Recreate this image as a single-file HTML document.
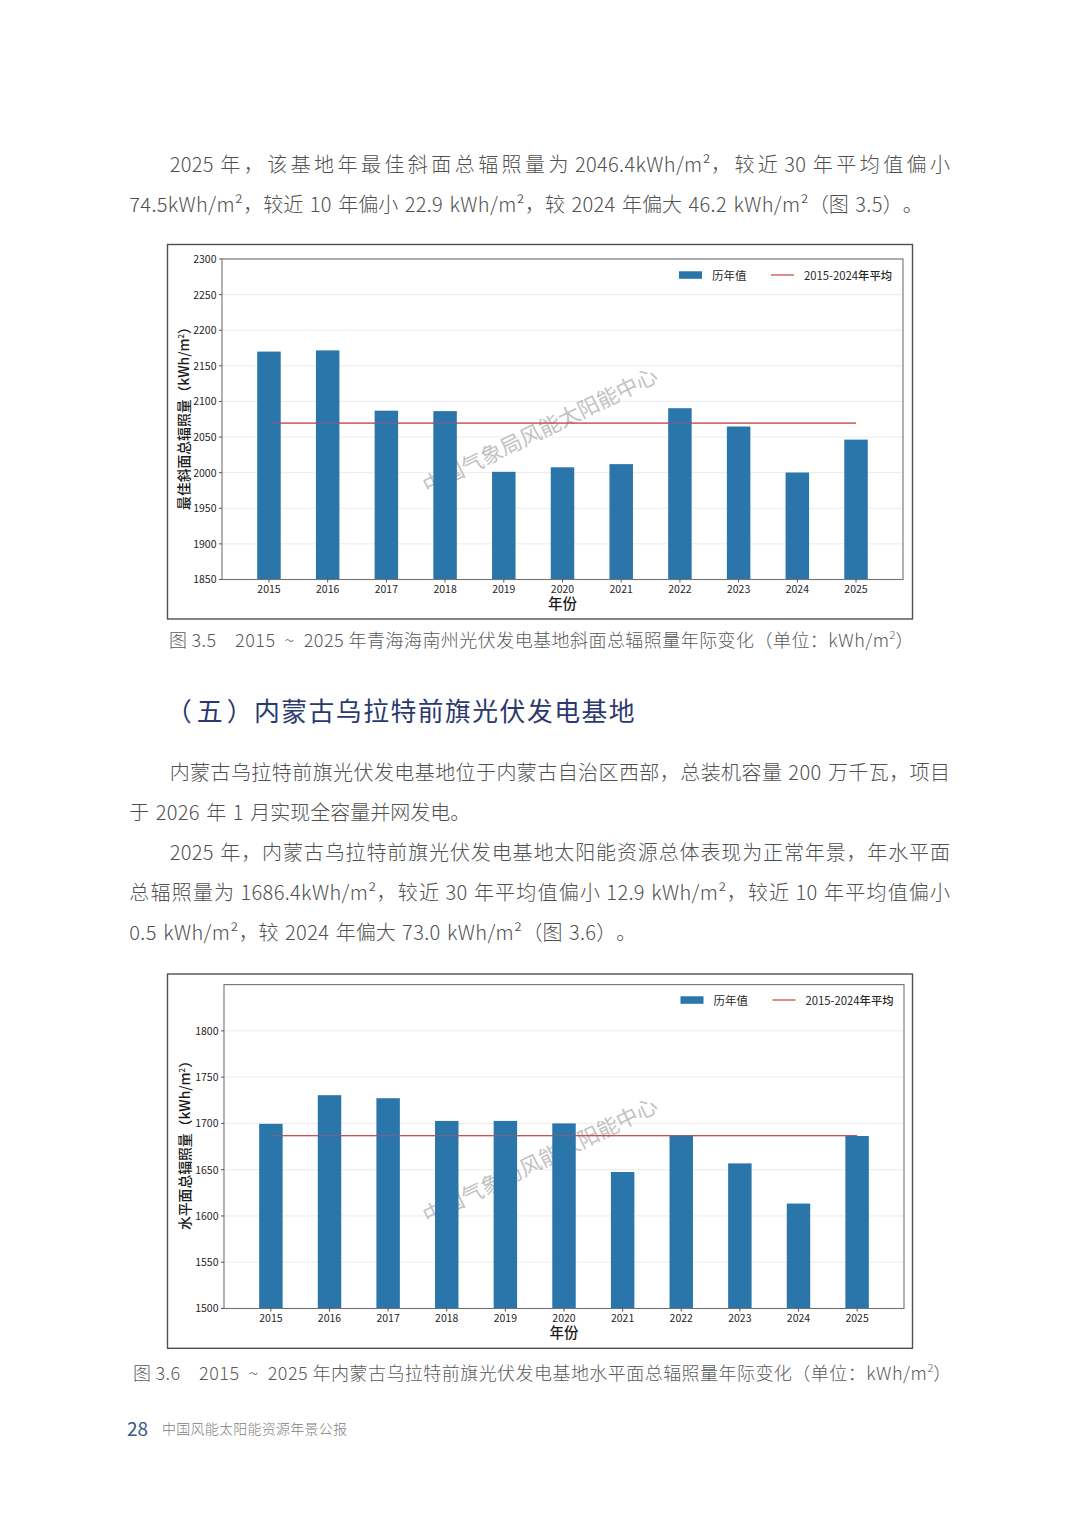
<!DOCTYPE html>
<html><head><meta charset="utf-8"><style>
html,body{margin:0;padding:0;background:#fff}
body{width:1080px;height:1527px;position:relative;overflow:hidden}
.t{position:absolute;font-family:"Noto Sans CJK SC",sans-serif;font-weight:300;font-size:20px;color:#505050;white-space:nowrap;line-height:1;word-spacing:2px;text-spacing-trim:space-all}
.j{text-align:justify;text-align-last:justify;white-space:normal}
.l{letter-spacing:0.35px}
.lc{letter-spacing:0.5px}
.cap{position:absolute;font-family:"Noto Sans CJK SC",sans-serif;font-weight:300;font-size:18px;color:#5a5a5a;white-space:nowrap;line-height:1;word-spacing:0px;letter-spacing:0.45px;text-spacing-trim:space-all}
.h{position:absolute;font-family:"Noto Sans CJK SC",sans-serif;font-weight:400;font-size:25.8px;letter-spacing:1.5px;color:#2b3a6e;white-space:nowrap;line-height:1}
.h span{position:relative;display:inline-block}
sup{font-size:11px;vertical-align:0;position:relative;top:-8px;letter-spacing:0}
svg text.tk{font-family:"Noto Sans CJK SC",sans-serif;font-size:10.5px;fill:#262626}
svg text.lb{font-family:"Noto Sans CJK SC",sans-serif;font-weight:500;font-size:14.5px;fill:#1a1a1a}
svg text.yl{font-size:13.8px}
svg text.lg{font-family:"Noto Sans CJK SC",sans-serif;font-weight:400;font-size:11.5px;fill:#262626}
svg text.lg2{font-size:11.3px}
svg text.wm{font-family:"Noto Sans CJK SC",sans-serif;font-weight:400;fill:#c2c2c2}
</style></head><body>
<svg width="1080" height="1527" viewBox="0 0 1080 1527" style="position:absolute;left:0;top:0">
<rect x="167.5" y="244.5" width="745.0" height="374.5" fill="#fff" stroke="#505050" stroke-width="1.4"/>
<line x1="222" y1="579.50" x2="903" y2="579.50" stroke="#ebebeb" stroke-width="1"/>
<line x1="222" y1="543.89" x2="903" y2="543.89" stroke="#ebebeb" stroke-width="1"/>
<line x1="222" y1="508.28" x2="903" y2="508.28" stroke="#ebebeb" stroke-width="1"/>
<line x1="222" y1="472.67" x2="903" y2="472.67" stroke="#ebebeb" stroke-width="1"/>
<line x1="222" y1="437.06" x2="903" y2="437.06" stroke="#ebebeb" stroke-width="1"/>
<line x1="222" y1="401.44" x2="903" y2="401.44" stroke="#ebebeb" stroke-width="1"/>
<line x1="222" y1="365.83" x2="903" y2="365.83" stroke="#ebebeb" stroke-width="1"/>
<line x1="222" y1="330.22" x2="903" y2="330.22" stroke="#ebebeb" stroke-width="1"/>
<line x1="222" y1="294.61" x2="903" y2="294.61" stroke="#ebebeb" stroke-width="1"/>
<line x1="222" y1="259.00" x2="903" y2="259.00" stroke="#ebebeb" stroke-width="1"/>
<text transform="translate(543.5,437.5) rotate(-26)" text-anchor="middle" class="wm" font-size="21.5">中国气象局风能太阳能中心</text>
<line x1="268.97" y1="423.17" x2="856.03" y2="423.17" stroke="#c65253" stroke-width="1.3"/>
<rect x="257.22" y="351.59" width="23.48" height="227.91" fill="#2a75a9"/>
<rect x="315.93" y="350.38" width="23.48" height="229.12" fill="#2a75a9"/>
<rect x="374.64" y="410.70" width="23.48" height="168.80" fill="#2a75a9"/>
<rect x="433.34" y="411.13" width="23.48" height="168.37" fill="#2a75a9"/>
<rect x="492.05" y="471.81" width="23.48" height="107.69" fill="#2a75a9"/>
<rect x="550.76" y="467.32" width="23.48" height="112.18" fill="#2a75a9"/>
<rect x="609.47" y="464.12" width="23.48" height="115.38" fill="#2a75a9"/>
<rect x="668.17" y="408.21" width="23.48" height="171.29" fill="#2a75a9"/>
<rect x="726.88" y="426.51" width="23.48" height="152.99" fill="#2a75a9"/>
<rect x="785.59" y="472.52" width="23.48" height="106.98" fill="#2a75a9"/>
<rect x="844.29" y="439.62" width="23.48" height="139.88" fill="#2a75a9"/>
<line x1="268.97" y1="423.17" x2="856.03" y2="423.17" stroke="#c65253" stroke-width="1.3" stroke-opacity="0.45"/>
<rect x="222" y="259" width="681" height="320.5" fill="none" stroke="#737373" stroke-width="1.1"/>
<line x1="219" y1="579.50" x2="222" y2="579.50" stroke="#555" stroke-width="1"/>
<text x="216.5" y="583.40" text-anchor="end" class="tk">1850</text>
<line x1="219" y1="543.89" x2="222" y2="543.89" stroke="#555" stroke-width="1"/>
<text x="216.5" y="547.79" text-anchor="end" class="tk">1900</text>
<line x1="219" y1="508.28" x2="222" y2="508.28" stroke="#555" stroke-width="1"/>
<text x="216.5" y="512.18" text-anchor="end" class="tk">1950</text>
<line x1="219" y1="472.67" x2="222" y2="472.67" stroke="#555" stroke-width="1"/>
<text x="216.5" y="476.57" text-anchor="end" class="tk">2000</text>
<line x1="219" y1="437.06" x2="222" y2="437.06" stroke="#555" stroke-width="1"/>
<text x="216.5" y="440.96" text-anchor="end" class="tk">2050</text>
<line x1="219" y1="401.44" x2="222" y2="401.44" stroke="#555" stroke-width="1"/>
<text x="216.5" y="405.34" text-anchor="end" class="tk">2100</text>
<line x1="219" y1="365.83" x2="222" y2="365.83" stroke="#555" stroke-width="1"/>
<text x="216.5" y="369.73" text-anchor="end" class="tk">2150</text>
<line x1="219" y1="330.22" x2="222" y2="330.22" stroke="#555" stroke-width="1"/>
<text x="216.5" y="334.12" text-anchor="end" class="tk">2200</text>
<line x1="219" y1="294.61" x2="222" y2="294.61" stroke="#555" stroke-width="1"/>
<text x="216.5" y="298.51" text-anchor="end" class="tk">2250</text>
<line x1="219" y1="259.00" x2="222" y2="259.00" stroke="#555" stroke-width="1"/>
<text x="216.5" y="262.90" text-anchor="end" class="tk">2300</text>
<line x1="268.97" y1="579.5" x2="268.97" y2="582.5" stroke="#555" stroke-width="1"/>
<text x="268.97" y="592.7" text-anchor="middle" class="tk">2015</text>
<line x1="327.67" y1="579.5" x2="327.67" y2="582.5" stroke="#555" stroke-width="1"/>
<text x="327.67" y="592.7" text-anchor="middle" class="tk">2016</text>
<line x1="386.38" y1="579.5" x2="386.38" y2="582.5" stroke="#555" stroke-width="1"/>
<text x="386.38" y="592.7" text-anchor="middle" class="tk">2017</text>
<line x1="445.09" y1="579.5" x2="445.09" y2="582.5" stroke="#555" stroke-width="1"/>
<text x="445.09" y="592.7" text-anchor="middle" class="tk">2018</text>
<line x1="503.79" y1="579.5" x2="503.79" y2="582.5" stroke="#555" stroke-width="1"/>
<text x="503.79" y="592.7" text-anchor="middle" class="tk">2019</text>
<line x1="562.50" y1="579.5" x2="562.50" y2="582.5" stroke="#555" stroke-width="1"/>
<text x="562.50" y="592.7" text-anchor="middle" class="tk">2020</text>
<line x1="621.21" y1="579.5" x2="621.21" y2="582.5" stroke="#555" stroke-width="1"/>
<text x="621.21" y="592.7" text-anchor="middle" class="tk">2021</text>
<line x1="679.91" y1="579.5" x2="679.91" y2="582.5" stroke="#555" stroke-width="1"/>
<text x="679.91" y="592.7" text-anchor="middle" class="tk">2022</text>
<line x1="738.62" y1="579.5" x2="738.62" y2="582.5" stroke="#555" stroke-width="1"/>
<text x="738.62" y="592.7" text-anchor="middle" class="tk">2023</text>
<line x1="797.33" y1="579.5" x2="797.33" y2="582.5" stroke="#555" stroke-width="1"/>
<text x="797.33" y="592.7" text-anchor="middle" class="tk">2024</text>
<line x1="856.03" y1="579.5" x2="856.03" y2="582.5" stroke="#555" stroke-width="1"/>
<text x="856.03" y="592.7" text-anchor="middle" class="tk">2025</text>
<text x="562.50" y="608.5" text-anchor="middle" class="lb">年份</text>
<text transform="translate(188.5,415.00) rotate(-90)" text-anchor="middle" class="lb yl">最佳斜面总辐照量（kWh/m<tspan dy="-5" font-size="8">2</tspan><tspan dy="5">）</tspan></text>
<rect x="679" y="271.3" width="23" height="7.5" fill="#2a75a9"/>
<text x="712" y="280.2" class="lg" font-weight="500">历年值</text>
<line x1="771" y1="275" x2="794" y2="275" stroke="#c65253" stroke-width="1.3"/>
<text x="804" y="280.2" class="lg lg2">2015-2024<tspan font-weight="500">年平均</tspan></text>
<rect x="167.5" y="974" width="745.0" height="374.29999999999995" fill="#fff" stroke="#505050" stroke-width="1.4"/>
<line x1="224" y1="1308.50" x2="904" y2="1308.50" stroke="#ebebeb" stroke-width="1"/>
<line x1="224" y1="1262.23" x2="904" y2="1262.23" stroke="#ebebeb" stroke-width="1"/>
<line x1="224" y1="1215.96" x2="904" y2="1215.96" stroke="#ebebeb" stroke-width="1"/>
<line x1="224" y1="1169.69" x2="904" y2="1169.69" stroke="#ebebeb" stroke-width="1"/>
<line x1="224" y1="1123.41" x2="904" y2="1123.41" stroke="#ebebeb" stroke-width="1"/>
<line x1="224" y1="1077.14" x2="904" y2="1077.14" stroke="#ebebeb" stroke-width="1"/>
<line x1="224" y1="1030.87" x2="904" y2="1030.87" stroke="#ebebeb" stroke-width="1"/>
<text transform="translate(543.5,1167.5) rotate(-26)" text-anchor="middle" class="wm" font-size="21.5">中国气象局风能太阳能中心</text>
<line x1="270.90" y1="1135.54" x2="857.10" y2="1135.54" stroke="#c65253" stroke-width="1.3"/>
<rect x="259.17" y="1123.88" width="23.45" height="184.62" fill="#2a75a9"/>
<rect x="317.79" y="1095.19" width="23.45" height="213.31" fill="#2a75a9"/>
<rect x="376.41" y="1098.24" width="23.45" height="210.26" fill="#2a75a9"/>
<rect x="435.03" y="1120.92" width="23.45" height="187.58" fill="#2a75a9"/>
<rect x="493.66" y="1120.92" width="23.45" height="187.58" fill="#2a75a9"/>
<rect x="552.28" y="1123.41" width="23.45" height="185.09" fill="#2a75a9"/>
<rect x="610.90" y="1172.00" width="23.45" height="136.50" fill="#2a75a9"/>
<rect x="669.52" y="1135.44" width="23.45" height="173.06" fill="#2a75a9"/>
<rect x="728.14" y="1163.39" width="23.45" height="145.11" fill="#2a75a9"/>
<rect x="786.76" y="1203.56" width="23.45" height="104.94" fill="#2a75a9"/>
<rect x="845.38" y="1136.00" width="23.45" height="172.50" fill="#2a75a9"/>
<line x1="270.90" y1="1135.54" x2="857.10" y2="1135.54" stroke="#c65253" stroke-width="1.3" stroke-opacity="0.45"/>
<rect x="224" y="984.6" width="680" height="323.9" fill="none" stroke="#737373" stroke-width="1.1"/>
<line x1="221" y1="1308.50" x2="224" y2="1308.50" stroke="#555" stroke-width="1"/>
<text x="218.5" y="1312.40" text-anchor="end" class="tk">1500</text>
<line x1="221" y1="1262.23" x2="224" y2="1262.23" stroke="#555" stroke-width="1"/>
<text x="218.5" y="1266.13" text-anchor="end" class="tk">1550</text>
<line x1="221" y1="1215.96" x2="224" y2="1215.96" stroke="#555" stroke-width="1"/>
<text x="218.5" y="1219.86" text-anchor="end" class="tk">1600</text>
<line x1="221" y1="1169.69" x2="224" y2="1169.69" stroke="#555" stroke-width="1"/>
<text x="218.5" y="1173.59" text-anchor="end" class="tk">1650</text>
<line x1="221" y1="1123.41" x2="224" y2="1123.41" stroke="#555" stroke-width="1"/>
<text x="218.5" y="1127.31" text-anchor="end" class="tk">1700</text>
<line x1="221" y1="1077.14" x2="224" y2="1077.14" stroke="#555" stroke-width="1"/>
<text x="218.5" y="1081.04" text-anchor="end" class="tk">1750</text>
<line x1="221" y1="1030.87" x2="224" y2="1030.87" stroke="#555" stroke-width="1"/>
<text x="218.5" y="1034.77" text-anchor="end" class="tk">1800</text>
<line x1="270.90" y1="1308.5" x2="270.90" y2="1311.5" stroke="#555" stroke-width="1"/>
<text x="270.90" y="1321.7" text-anchor="middle" class="tk">2015</text>
<line x1="329.52" y1="1308.5" x2="329.52" y2="1311.5" stroke="#555" stroke-width="1"/>
<text x="329.52" y="1321.7" text-anchor="middle" class="tk">2016</text>
<line x1="388.14" y1="1308.5" x2="388.14" y2="1311.5" stroke="#555" stroke-width="1"/>
<text x="388.14" y="1321.7" text-anchor="middle" class="tk">2017</text>
<line x1="446.76" y1="1308.5" x2="446.76" y2="1311.5" stroke="#555" stroke-width="1"/>
<text x="446.76" y="1321.7" text-anchor="middle" class="tk">2018</text>
<line x1="505.38" y1="1308.5" x2="505.38" y2="1311.5" stroke="#555" stroke-width="1"/>
<text x="505.38" y="1321.7" text-anchor="middle" class="tk">2019</text>
<line x1="564.00" y1="1308.5" x2="564.00" y2="1311.5" stroke="#555" stroke-width="1"/>
<text x="564.00" y="1321.7" text-anchor="middle" class="tk">2020</text>
<line x1="622.62" y1="1308.5" x2="622.62" y2="1311.5" stroke="#555" stroke-width="1"/>
<text x="622.62" y="1321.7" text-anchor="middle" class="tk">2021</text>
<line x1="681.24" y1="1308.5" x2="681.24" y2="1311.5" stroke="#555" stroke-width="1"/>
<text x="681.24" y="1321.7" text-anchor="middle" class="tk">2022</text>
<line x1="739.86" y1="1308.5" x2="739.86" y2="1311.5" stroke="#555" stroke-width="1"/>
<text x="739.86" y="1321.7" text-anchor="middle" class="tk">2023</text>
<line x1="798.48" y1="1308.5" x2="798.48" y2="1311.5" stroke="#555" stroke-width="1"/>
<text x="798.48" y="1321.7" text-anchor="middle" class="tk">2024</text>
<line x1="857.10" y1="1308.5" x2="857.10" y2="1311.5" stroke="#555" stroke-width="1"/>
<text x="857.10" y="1321.7" text-anchor="middle" class="tk">2025</text>
<text x="564.00" y="1337.5" text-anchor="middle" class="lb">年份</text>
<text transform="translate(190,1142.00) rotate(-90)" text-anchor="middle" class="lb yl">水平面总辐照量（kWh/m<tspan dy="-5" font-size="8">2</tspan><tspan dy="5">）</tspan></text>
<rect x="680.5" y="996.3" width="23" height="7.5" fill="#2a75a9"/>
<text x="713.5" y="1005.2" class="lg" font-weight="500">历年值</text>
<line x1="772.5" y1="1000" x2="795.5" y2="1000" stroke="#c65253" stroke-width="1.3"/>
<text x="805.5" y="1005.2" class="lg lg2">2015-2024<tspan font-weight="500">年平均</tspan></text>
</svg>
<div class="t" style="left:169.7px;top:154px"><span class="ln"><span class="l">2025</span> <span class="c" style="letter-spacing:3.441px">年，该基地年最佳斜面总辐照量</span>为 <span class="l">2046.4kWh/m²</span><span class="c" style="letter-spacing:3.441px">，较</span>近 <span class="l">30</span> <span class="c" style="letter-spacing:3.441px">年平均值偏</span>小</span></div>
<div class="t" style="left:129.3px;top:194px"><span class="l">74.5kWh/m²</span>，较近 <span class="l">10</span> 年偏小 <span class="l">22.9</span> <span class="l">kWh/m²</span>，较 <span class="l">2024</span> 年偏大 <span class="l">46.2</span> <span class="l">kWh/m²</span>（图 <span class="l">3.5</span>）。</div>
<div class="t" style="left:169.7px;top:762px"><span class="ln"><span class="c" style="letter-spacing:0.421px">内蒙古乌拉特前旗光伏发电基地位于内蒙古自治区西部，总装机容</span>量 <span class="l">200</span> <span class="c" style="letter-spacing:0.421px">万千瓦，项</span>目</span></div>
<div class="t" style="left:129.3px;top:802px">于 <span class="l">2026</span> 年 <span class="l">1</span> 月实现全容量并网发电。</div>
<div class="t" style="left:169.7px;top:842px"><span class="ln"><span class="l">2025</span> <span class="c" style="letter-spacing:0.873px">年，内蒙古乌拉特前旗光伏发电基地太阳能资源总体表现为正常年景，年水平</span>面</span></div>
<div class="t" style="left:129.3px;top:882px"><span class="ln"><span class="c" style="letter-spacing:1.196px">总辐照量</span>为 <span class="l">1686.4kWh/m²</span><span class="c" style="letter-spacing:1.196px">，较</span>近 <span class="l">30</span> <span class="c" style="letter-spacing:1.196px">年平均值偏</span>小 <span class="l">12.9</span> <span class="l">kWh/m²</span><span class="c" style="letter-spacing:1.196px">，较</span>近 <span class="l">10</span> <span class="c" style="letter-spacing:1.196px">年平均值偏</span>小</span></div>
<div class="t" style="left:129.3px;top:922px"><span class="l">0.5</span> <span class="l">kWh/m²</span>，较 <span class="l">2024</span> 年偏大 <span class="l">73.0</span> <span class="l">kWh/m²</span>（图 <span class="l">3.6</span>）。</div>
<div class="cap" style="left:169px;top:630px"><span style="word-spacing:-0.5px">图 </span><span class="lc">3.5</span>　<span class="lc">2015</span><span style="word-spacing:4.5px"> <span class="lc">~</span> </span><span class="lc">2025</span> 年青海海南州光伏发电基地斜面总辐照量年际变化（单位：<span class="lc">kWh/m<sup>2</sup></span>）</div>
<div class="h" style="left:172px;top:697px"><span style="left:-6px">（</span><span style="left:-2.5px">五</span><span>）</span>内蒙古乌拉特前旗光伏发电基地</div>
<div class="cap" style="left:133px;top:1362.5px"><span style="word-spacing:-0.5px">图 </span><span class="lc">3.6</span>　<span class="lc">2015</span><span style="word-spacing:4.5px"> <span class="lc">~</span> </span><span class="lc">2025</span> 年内蒙古乌拉特前旗光伏发电基地水平面总辐照量年际变化（单位：<span class="lc">kWh/m<sup>2</sup></span>）</div>
<div style="position:absolute;left:127px;top:1418px;font-family:'Noto Sans CJK SC',sans-serif;font-weight:400;font-size:19px;color:#35578a;line-height:1">28</div>
<div style="position:absolute;left:162px;top:1421px;font-family:'Noto Sans CJK SC',sans-serif;font-weight:300;font-size:14px;letter-spacing:0.25px;color:#808080;line-height:1">中国风能太阳能资源年景公报</div>
</body></html>
